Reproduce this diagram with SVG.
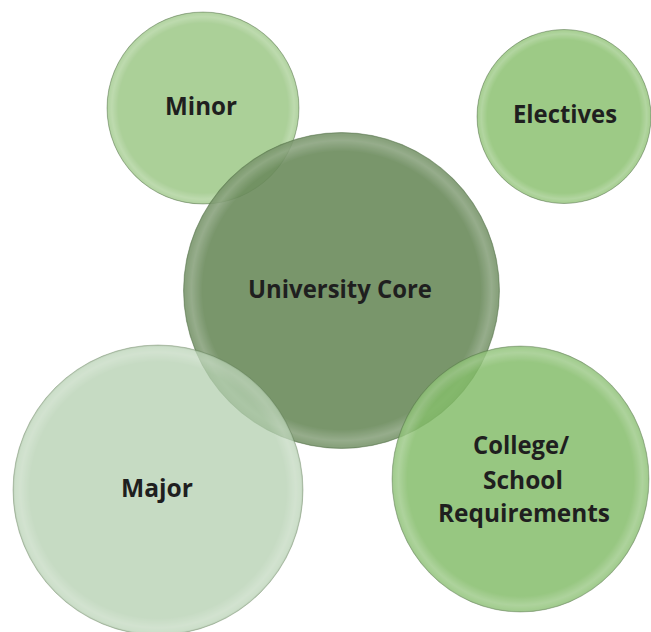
<svg xmlns="http://www.w3.org/2000/svg" width="651" height="632" viewBox="0 0 651 632">
  <defs>
    <radialGradient id="rim" cx="50%" cy="50%" r="50%">
      <stop offset="0%" stop-color="#ffffff" stop-opacity="0"/>
      <stop offset="88%" stop-color="#ffffff" stop-opacity="0"/>
      <stop offset="95%" stop-color="#ffffff" stop-opacity="0.22"/>
      <stop offset="98.5%" stop-color="#ffffff" stop-opacity="0.12"/>
      <stop offset="100%" stop-color="#3c5a30" stop-opacity="0.35"/>
    </radialGradient>
    <style>
      .label { font-family: "Open Sans", "Liberation Sans", sans-serif; font-weight: bold; font-size: 25px; fill: #1f1f1f; text-anchor: middle; }
      .rim { fill: url(#rim); stroke: #55704a; stroke-opacity: 0.45; stroke-width: 1; }
    </style>
  </defs>
  <rect width="651" height="632" fill="#ffffff"/>

  <g id="minor" opacity="0.9">
    <circle cx="203" cy="108" r="96" fill="#a2cb8d"/>
    <circle cx="203" cy="108" r="96" class="rim"/>
  </g>

  <g id="electives" opacity="0.92">
    <circle cx="564" cy="116.5" r="87" fill="#95c67c"/>
    <circle cx="564" cy="116.5" r="87" class="rim"/>
  </g>

  <g id="university-core" opacity="0.9">
    <circle cx="341.5" cy="290.5" r="158" fill="#6b8b5c"/>
    <circle cx="341.5" cy="290.5" r="158" class="rim"/>
  </g>

  <g id="major" opacity="0.75">
    <circle cx="158" cy="490" r="145" fill="#b3cfaf"/>
    <circle cx="158" cy="490" r="145" class="rim"/>
  </g>

  <g id="college" opacity="0.82">
    <ellipse cx="520.5" cy="479" rx="128.5" ry="133" fill="#81bb66"/>
    <ellipse cx="520.5" cy="479" rx="128.5" ry="133" class="rim"/>
  </g>

  <g id="labels">
    <text class="label" x="201" y="115" textLength="72" lengthAdjust="spacingAndGlyphs">Minor</text>
    <text class="label" x="565" y="123" textLength="104" lengthAdjust="spacingAndGlyphs">Electives</text>
    <text class="label" x="340" y="298" textLength="184" lengthAdjust="spacingAndGlyphs">University Core</text>
    <text class="label" x="157" y="497" textLength="72" lengthAdjust="spacingAndGlyphs">Major</text>
    <text class="label" x="521" y="454" textLength="96" lengthAdjust="spacingAndGlyphs">College/</text>
    <text class="label" x="523" y="489" textLength="80" lengthAdjust="spacingAndGlyphs">School</text>
    <text class="label" x="524" y="522" textLength="172" lengthAdjust="spacingAndGlyphs">Requirements</text>
  </g>
</svg>
